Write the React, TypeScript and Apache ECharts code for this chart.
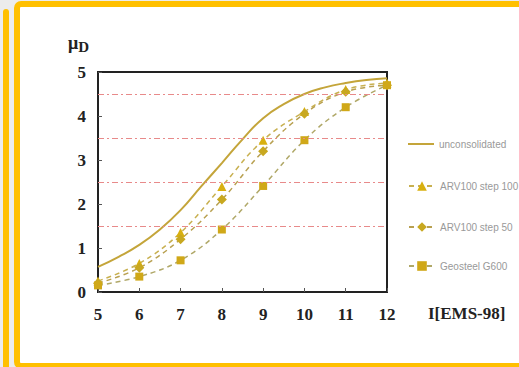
import React, { useEffect, useRef } from "react";
import * as echarts from "echarts";

const xTicks = [5, 6, 7, 8, 9, 10, 11, 12];
const unconsolidatedX = [5, 5.5, 6, 6.5, 7, 7.5, 8, 8.5, 9, 9.5, 10, 10.5, 11, 11.5, 12];
const unconsolidatedY = [0.57, 0.8, 1.07, 1.42, 1.86, 2.4, 2.93, 3.47, 3.95, 4.27, 4.5, 4.65, 4.75, 4.82, 4.86];
const step100Y = [0.25, 0.65, 1.35, 2.4, 3.45, 4.1, 4.6, 4.75];
const step50Y = [0.2, 0.55, 1.2, 2.1, 3.2, 4.05, 4.55, 4.7];
const geosteelY = [0.15, 0.35, 0.72, 1.42, 2.41, 3.45, 4.2, 4.7];
const gridLevels = [1.5, 2.5, 3.5, 4.5];
const seriesNames = ["unconsolidated", "ARV100 step 100", "ARV100 step 50", "Geosteel G600"];

const pair = (xs: number[], ys: number[]) => xs.map((x, i) => [x, ys[i]]);

export default function App() {
  const ref = useRef<HTMLDivElement>(null);
  useEffect(() => {
    if (!ref.current) return;
    const chart = echarts.init(ref.current, undefined, { renderer: "svg" });
    const serif = "'Liberation Serif', 'Times New Roman', serif";
    const lineCol = "#c4a53a";
    const markCol = "#d8b010";
    const legendText = { color: "#999", fontSize: 10, fontFamily: "'Liberation Sans', sans-serif" };
    const legendTops = [134, 176, 217, 256];
    const legends = seriesNames.map((n, i) => ({
      orient: "vertical",
      left: 403,
      top: legendTops[i],
      itemWidth: 26,
      itemHeight: i === 0 ? 2 : 12,
      icon: i === 0 ? "rect" : undefined,
      itemGap: 5,
      data: [n],
      textStyle: legendText,
    }));
    chart.setOption({
      animation: false,
      backgroundColor: "#ececec",
      graphic: [
        { type: "rect", z: -10, silent: true, shape: { x: 3, y: 9, width: 6, height: 370, r: [3, 3, 0, 0] }, style: { fill: "#ffc000" } },
        { type: "rect", z: -10, silent: true, shape: { x: 17, y: 4, width: 520, height: 362, r: 4 }, style: { fill: "#ffffff", stroke: "#ffc000", lineWidth: 6 } },
        {
          type: "text", z: 10, left: 68, top: 34,
          style: {
            text: "{a|μ}{b|D}",
            rich: {
              a: { fontFamily: serif, fontWeight: "bold", fontSize: 18, fill: "#222" },
              b: { fontFamily: serif, fontWeight: "bold", fontSize: 15, fill: "#222", padding: [8, 0, 0, 0] },
            },
          },
        },
        { type: "text", z: 10, left: 428, top: 305, style: { text: "I[EMS-98]", fontFamily: serif, fontWeight: "bold", fontSize: 17, fill: "#222" } },
      ],
      grid: { left: 98, right: 132, top: 72, bottom: 75, show: true, borderColor: "#222", borderWidth: 2, backgroundColor: "transparent" },
      legend: legends,
      xAxis: {
        type: "value", min: 5, max: 12, interval: 1,
        axisLine: { lineStyle: { color: "#222", width: 2 } },
        axisTick: { inside: true, length: 4, lineStyle: { color: "#555" } },
        splitLine: { show: false },
        axisLabel: {
          margin: 14, fontFamily: serif, fontWeight: "bold", fontSize: 17, color: "#222",
          formatter: (v: number) => (xTicks.includes(v) ? String(v) : ""),
        },
      },
      yAxis: {
        type: "value", min: 0, max: 5, interval: 1,
        axisLine: { show: true, lineStyle: { color: "#222", width: 2 } },
        axisTick: { show: true, inside: true, length: 4, lineStyle: { color: "#555" } },
        splitLine: { show: false },
        axisLabel: { margin: 12, fontFamily: serif, fontWeight: "bold", fontSize: 17, color: "#222" },
      },
      series: [
        {
          name: seriesNames[0], type: "line", smooth: true, symbol: "none",
          data: pair(unconsolidatedX, unconsolidatedY),
          lineStyle: { color: lineCol, width: 2 }, itemStyle: { color: lineCol }, z: 3,
          markLine: {
            silent: true, symbol: "none", label: { show: false },
            lineStyle: { color: "#e88a8a", width: 1, type: [6, 3, 2, 3] },
            data: gridLevels.map((v) => ({ yAxis: v })),
          },
        },
        {
          name: seriesNames[1], type: "line", smooth: 0.4, symbol: "triangle", symbolSize: 9,
          data: pair(xTicks, step100Y),
          lineStyle: { color: "#c8b050", width: 1.5, type: [5, 4] }, itemStyle: { color: markCol },
        },
        {
          name: seriesNames[2], type: "line", smooth: 0.4, symbol: "diamond", symbolSize: 10,
          data: pair(xTicks, step50Y),
          lineStyle: { color: "#b8a050", width: 1.5, type: [5, 4] }, itemStyle: { color: "#c8a820" },
        },
        {
          name: seriesNames[3], type: "line", smooth: 0.4, symbol: "rect", symbolSize: 8,
          data: pair(xTicks, geosteelY),
          lineStyle: { color: "#b0a868", width: 1.5, type: [5, 4] }, itemStyle: { color: "#d0a818" },
        },
      ],
    });
    return () => chart.dispose();
  }, []);
  return <div ref={ref} style={{ position: "absolute", left: 0, top: 0, width: 519, height: 367 }} />;
}
